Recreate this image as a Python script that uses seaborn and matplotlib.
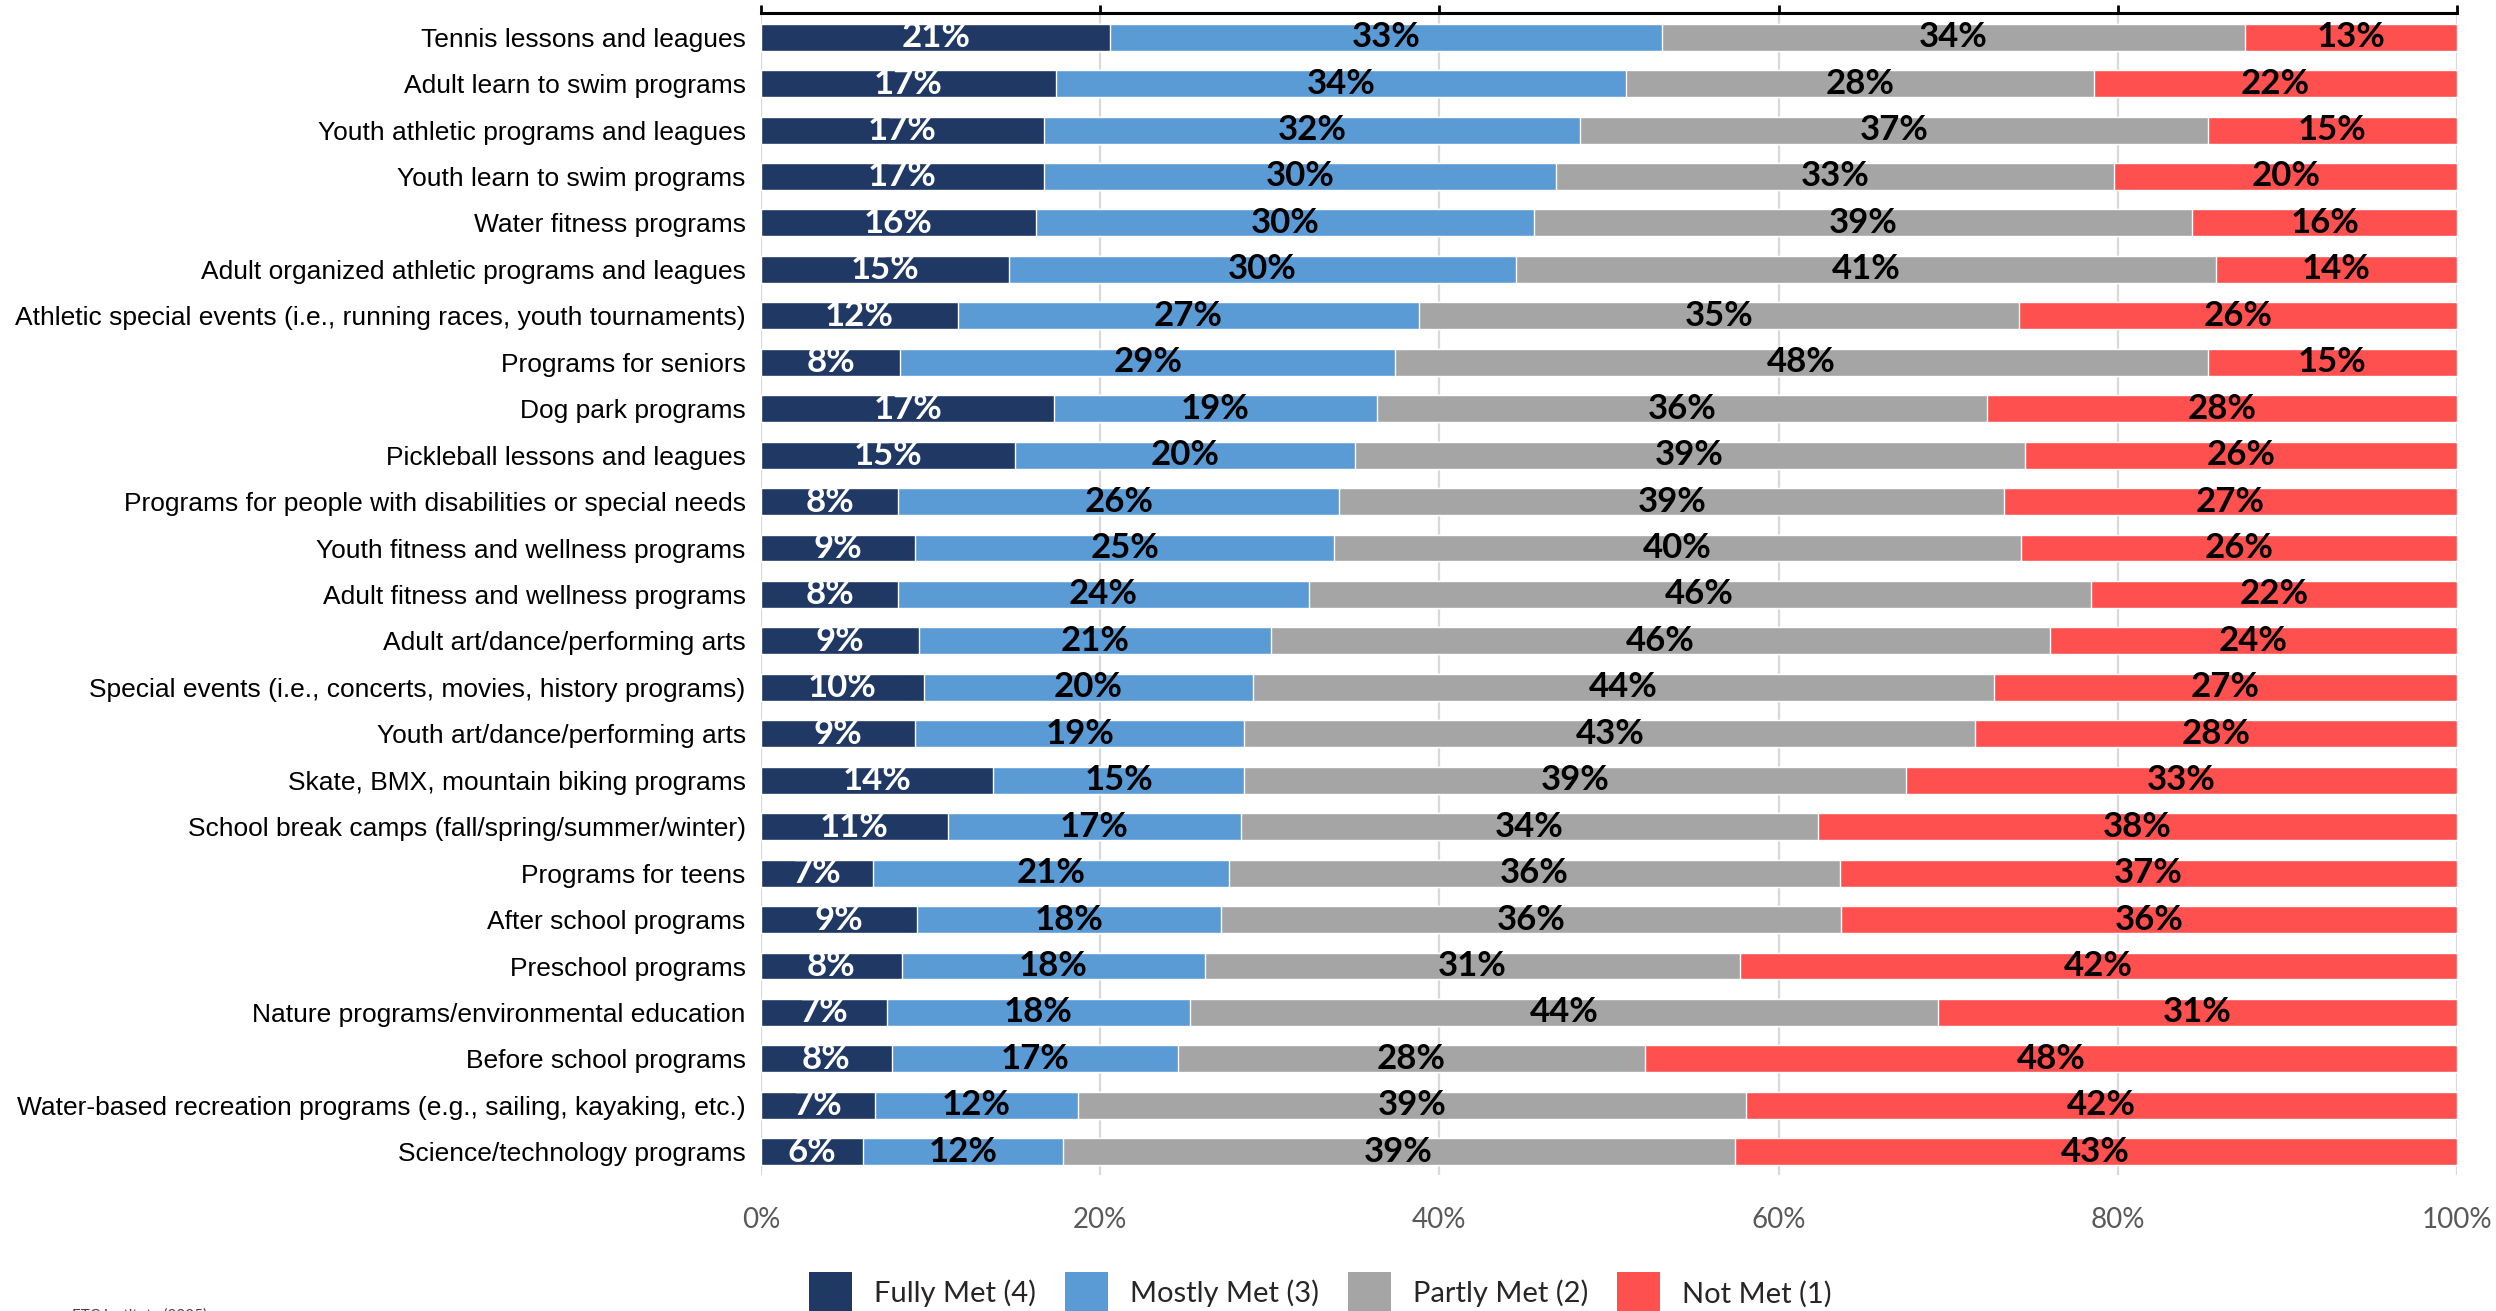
import numpy as np
import seaborn as sns
import matplotlib.pyplot as plt
from matplotlib.patches import Patch

programs = [
    "Tennis lessons and leagues",
    "Adult learn to swim programs",
    "Youth athletic programs and leagues",
    "Youth learn to swim programs",
    "Water fitness programs",
    "Adult organized athletic programs and leagues",
    "Athletic special events (i.e., running races, youth tournaments)",
    "Programs for seniors",
    "Dog park programs",
    "Pickleball lessons and leagues",
    "Programs for people with disabilities or special needs",
    "Youth fitness and wellness programs",
    "Adult fitness and wellness programs",
    "Adult art/dance/performing arts",
    "Special events (i.e., concerts, movies, history programs)",
    "Youth art/dance/performing arts",
    "Skate, BMX, mountain biking programs",
    "School break camps (fall/spring/summer/winter)",
    "Programs for teens",
    "After school programs",
    "Preschool programs",
    "Nature programs/environmental education",
    "Before school programs",
    "Water-based recreation programs (e.g., sailing, kayaking, etc.)",
    "Science/technology programs",
]

# segment shares (%)
fully = [20.6, 17.4, 16.7, 16.7, 16.2, 14.6, 11.6, 8.2, 17.3, 15.0, 8.1, 9.1, 8.1,
         9.3, 9.6, 9.1, 13.7, 11.0, 6.6, 9.2, 8.3, 7.4, 7.7, 6.7, 6.0]
mostly = [32.5, 33.6, 31.6, 30.2, 29.4, 29.9, 27.2, 29.2, 19.0, 20.0, 26.0, 24.7, 24.2,
          20.8, 19.4, 19.4, 14.8, 17.3, 21.0, 17.9, 17.9, 17.9, 16.9, 12.0, 11.8]
partly = [34.4, 27.6, 37.0, 32.9, 38.8, 41.3, 35.4, 47.9, 36.0, 39.5, 39.2, 40.5, 46.1,
          45.9, 43.7, 43.1, 39.0, 34.0, 36.0, 36.6, 31.5, 44.1, 27.5, 39.4, 39.6]
not_met = [12.5, 21.4, 14.7, 20.2, 15.6, 14.2, 25.8, 14.7, 27.7, 25.5, 26.7, 25.7, 21.6,
           24.0, 27.3, 28.4, 32.5, 37.7, 36.4, 36.3, 42.3, 30.6, 47.9, 41.9, 42.6]

# printed labels
fully_lbl = [21, 17, 17, 17, 16, 15, 12, 8, 17, 15, 8, 9, 8, 9, 10, 9, 14, 11, 7, 9, 8, 7, 8, 7, 6]
mostly_lbl = [33, 34, 32, 30, 30, 30, 27, 29, 19, 20, 26, 25, 24, 21, 20, 19, 15, 17, 21, 18, 18, 18, 17, 12, 12]
partly_lbl = [34, 28, 37, 33, 39, 41, 35, 48, 36, 39, 39, 40, 46, 46, 44, 43, 39, 34, 36, 36, 31, 44, 28, 39, 39]
not_lbl = [13, 22, 15, 20, 16, 14, 26, 15, 28, 26, 27, 26, 22, 24, 27, 28, 33, 38, 37, 36, 42, 31, 48, 42, 43]

series = ["Fully Met (4)", "Mostly Met (3)", "Partly Met (2)", "Not Met (1)"]
colors = ["#203864", "#5B9BD5", "#A5A5A5", "#FF5050"]

sns.set_style("white")
plt.rcParams["font.family"] = ["Lato", "DejaVu Sans"]

fig = plt.figure(figsize=(24.96, 13.11), dpi=100)
ax = fig.add_axes([761 / 2496, 1 - 1175 / 1311, 1696 / 2496, 1162 / 1311])

segs = np.array([fully, mostly, partly, not_met])
lbls = [fully_lbl, mostly_lbl, partly_lbl, not_lbl]
cum = np.cumsum(segs, axis=0)

# draw cumulative bars from the longest down so each segment shows
for i in range(3, -1, -1):
    sns.barplot(x=cum[i], y=programs, color=colors[i], saturation=1, width=0.58,
                orient="h", ax=ax, zorder=2)

for i in range(4):
    start = cum[i] - segs[i]
    for j in range(len(programs)):
        ax.text(start[j] + segs[i][j] / 2, j, f"{lbls[i][j]}%", ha="center", va="center",
                fontsize=25, fontweight="bold", color="white" if i == 0 else "black",
                zorder=3)

ax.set_xlim(0, 100)
ax.set_ylim(24.5, -0.52)
ax.set_xticks(np.arange(0, 101, 20))
ax.set_xticklabels([f"{t}%" for t in range(0, 101, 20)])
ax.set_xlabel("")
ax.set_ylabel("")
ax.set_axisbelow(True)
ax.xaxis.grid(True, color="#D9D9D9", linewidth=1.6, zorder=0)
ax.yaxis.grid(False)

for s in ["left", "right", "bottom"]:
    ax.spines[s].set_visible(False)
ax.spines["top"].set_visible(True)
ax.spines["top"].set_color("black")
ax.spines["top"].set_linewidth(2.2)

ax.tick_params(axis="x", bottom=False, top=True, labelbottom=True, labeltop=False,
               direction="out", length=6, width=2, color="black",
               labelsize=20, labelcolor="#595959", pad=17)
ax.tick_params(axis="y", left=False, length=0, pad=11)
for t in ax.get_yticklabels():
    t.set_fontfamily(["Liberation Sans", "DejaVu Sans"])
    t.set_fontsize(19)
    t.set_color("black")

handles = [Patch(facecolor=c, edgecolor="none") for c in colors]
fig.legend(handles, series, loc="center left", bbox_to_anchor=(809 / 2496, 1 - 1293 / 1311),
           ncol=4, frameon=False, fontsize=21, handlelength=1.47, handleheight=1.85,
           handletextpad=0.75, columnspacing=1.0, borderpad=0, borderaxespad=0)

fig.text(72 / 2496, 1 - 1308 / 1311, "ETC Institute (2025)", fontsize=11,
         color="#404040", va="top", ha="left")

fig.savefig("out.png", dpi=100)
